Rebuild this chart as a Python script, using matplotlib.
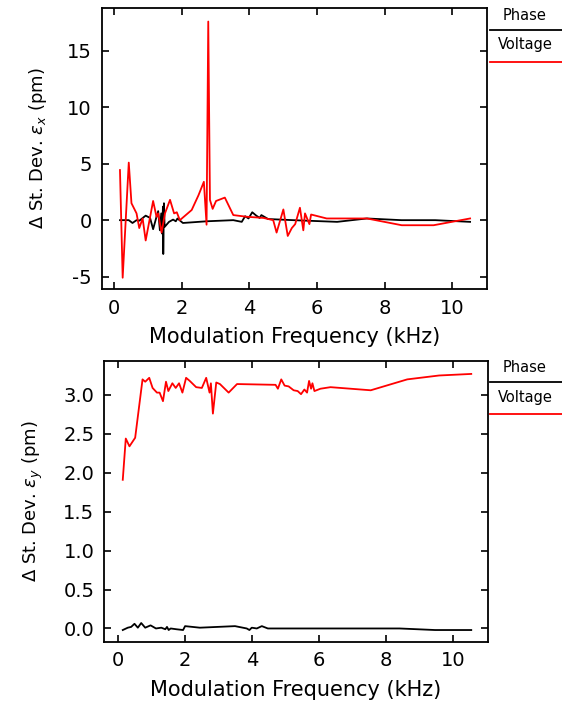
import matplotlib
matplotlib.use("Agg")
import matplotlib.pyplot as plt
from matplotlib.lines import Line2D

plt.rcParams['font.family'] = ['DejaVu Sans']
plt.rcParams['axes.unicode_minus'] = False

# top panel: Delta St. Dev. eps_x
top_phase_x = [0.18, 0.44, 0.55, 0.67, 0.75, 0.94, 1.07, 1.16, 1.26, 1.31, 1.36, 1.40, 1.43, 1.45,
               1.46, 1.48, 1.50, 1.63, 1.75, 1.83, 1.88, 2.04, 2.74, 3.53, 3.78, 3.88, 3.98, 4.09,
               4.21, 4.31, 4.36, 4.56, 5.30, 6.60, 7.48, 8.50, 9.50, 10.53]
top_phase_y = [0.0, 0.0, -0.25, 0.0, -0.05, 0.4, 0.2, -0.8, 0.3, 0.8, -0.9, 0.6, -1.2, 1.2,
               -3.0, 1.5, -0.6, -0.15, 0.05, -0.1, 0.15, -0.25, -0.1, 0.0, -0.15, 0.35, 0.15, 0.7,
               0.4, 0.2, 0.45, 0.1, 0.0, -0.15, 0.15, 0.0, 0.0, -0.15]
top_volt_x = [0.18, 0.26, 0.44, 0.52, 0.67, 0.75, 0.85, 0.94, 1.16, 1.26, 1.31, 1.41, 1.51, 1.66,
              1.78, 1.86, 1.95, 2.30, 2.50, 2.66, 2.74, 2.79, 2.84, 2.92, 3.02, 3.28, 3.53, 3.93,
              4.42, 4.71, 4.81, 5.01, 5.14, 5.26, 5.36, 5.50, 5.60, 5.65, 5.78, 5.83, 6.29, 7.48,
              8.51, 9.45, 10.53]
top_volt_y = [4.44, -5.1, 5.1, 1.5, 0.6, -0.7, 0.15, -1.8, 1.7, 0.3, 0.6, -1.1, 0.6, 1.8,
              0.6, 0.7, 0.0, 0.9, 2.2, 3.4, -0.4, 17.6, 1.8, 1.0, 1.7, 2.0, 0.45, 0.3,
              0.2, 0.0, -1.1, 0.95, -1.4, -0.7, -0.35, 1.1, -0.9, 0.6, -0.35, 0.5, 0.15, 0.15,
              -0.45, -0.45, 0.15]

# bottom panel: Delta St. Dev. eps_y
bot_phase_x = [0.15, 0.3, 0.4, 0.5, 0.6, 0.7, 0.82, 0.98, 1.14, 1.3, 1.42, 1.47, 1.52, 1.58,
               1.75, 1.95, 2.01, 2.45, 3.50, 3.85, 3.93, 4.0, 4.15, 4.30, 4.48, 8.41, 9.47, 10.55]
bot_phase_y = [-0.02, 0.01, 0.02, 0.06, 0.01, 0.07, 0.01, 0.04, 0.0, 0.01, -0.01, 0.02, -0.02, 0.0,
               -0.01, -0.02, 0.03, 0.01, 0.03, 0.0, -0.02, 0.01, 0.0, 0.03, 0.0, 0.0, -0.02, -0.02]
bot_volt_x = [0.15, 0.24, 0.35, 0.52, 0.74, 0.82, 0.94, 1.04, 1.17, 1.25, 1.35, 1.44, 1.51, 1.63,
              1.73, 1.83, 1.93, 2.04, 2.15, 2.34, 2.51, 2.64, 2.74, 2.78, 2.84, 2.94, 3.05, 3.31,
              3.56, 4.71, 4.78, 4.88, 4.98, 5.10, 5.25, 5.37, 5.47, 5.57, 5.65, 5.71, 5.77, 5.81,
              5.87, 6.05, 6.35, 7.55, 8.64, 9.59, 10.55]
bot_volt_y = [1.91, 2.44, 2.34, 2.45, 3.20, 3.17, 3.22, 3.09, 3.03, 3.03, 2.92, 3.17, 3.05, 3.15,
              3.09, 3.15, 3.03, 3.22, 3.18, 3.10, 3.09, 3.22, 3.03, 3.15, 2.76, 3.16, 3.14, 3.03,
              3.14, 3.13, 3.08, 3.20, 3.12, 3.11, 3.06, 3.05, 3.01, 3.07, 3.03, 3.18, 3.08, 3.15,
              3.05, 3.08, 3.10, 3.06, 3.20, 3.25, 3.27]

x_ticks = [0, 2, 4, 6, 8, 10]
top_yticks = [-5, 0, 5, 10, 15]
bot_yticks = [0.0, 0.5, 1.0, 1.5, 2.0, 2.5, 3.0]
legend_names = ['Phase', 'Voltage']
legend_colors = ['black', 'red']

W, H = 562, 702
fig = plt.figure(figsize=(W / 100, H / 100), dpi=100)


def px_box(left, top, right, bottom):
    return [left / W, 1 - bottom / H, (right - left) / W, (bottom - top) / H]


def style(ax, ylab):
    ax.set_xticks(x_ticks)
    ax.tick_params(direction='in', length=5, width=1.2, top=True, right=True,
                   labelsize=14, pad=7)
    for s in ax.spines.values():
        s.set_linewidth(1.3)
    ax.set_xlabel('Modulation Frequency (kHz)', fontsize=15, labelpad=7)
    ax.set_ylabel(ylab, fontsize=13, labelpad=13)


def legend(top_px):
    rows = [(top_px + 7, top_px + 21.5), (top_px + 37, top_px + 53.5)]
    for name, col, (ty, ly) in zip(legend_names, legend_colors, rows):
        fig.text(525 / W, 1 - ty / H, name, ha='center', va='center', fontsize=10.5)
        fig.add_artist(Line2D([490 / W, 1.0], [1 - ly / H, 1 - ly / H], color=col, lw=1.3))


ax1 = fig.add_axes(px_box(101.7, 8, 487, 289))
ax1.plot(top_phase_x, top_phase_y, color='black', lw=1.3)
ax1.plot(top_volt_x, top_volt_y, color='red', lw=1.3)
ax1.set_xlim(-0.36, 11.03)
ax1.set_ylim(-6.1, 18.8)
ax1.set_yticks(top_yticks)
style(ax1, r'$\Delta$ St. Dev. $\varepsilon_x$ (pm)')
legend(8)

ax2 = fig.add_axes(px_box(104, 360.7, 488, 641.7))
ax2.plot(bot_phase_x, bot_phase_y, color='black', lw=1.3)
ax2.plot(bot_volt_x, bot_volt_y, color='red', lw=1.3)
ax2.set_xlim(-0.41, 11.05)
ax2.set_ylim(-0.17, 3.44)
ax2.set_yticks(bot_yticks)
ax2.set_yticklabels([f'{v:.1f}' for v in bot_yticks])
style(ax2, r'$\Delta$ St. Dev. $\varepsilon_y$ (pm)')
legend(360.7)

fig.savefig('out.png', dpi=100)
